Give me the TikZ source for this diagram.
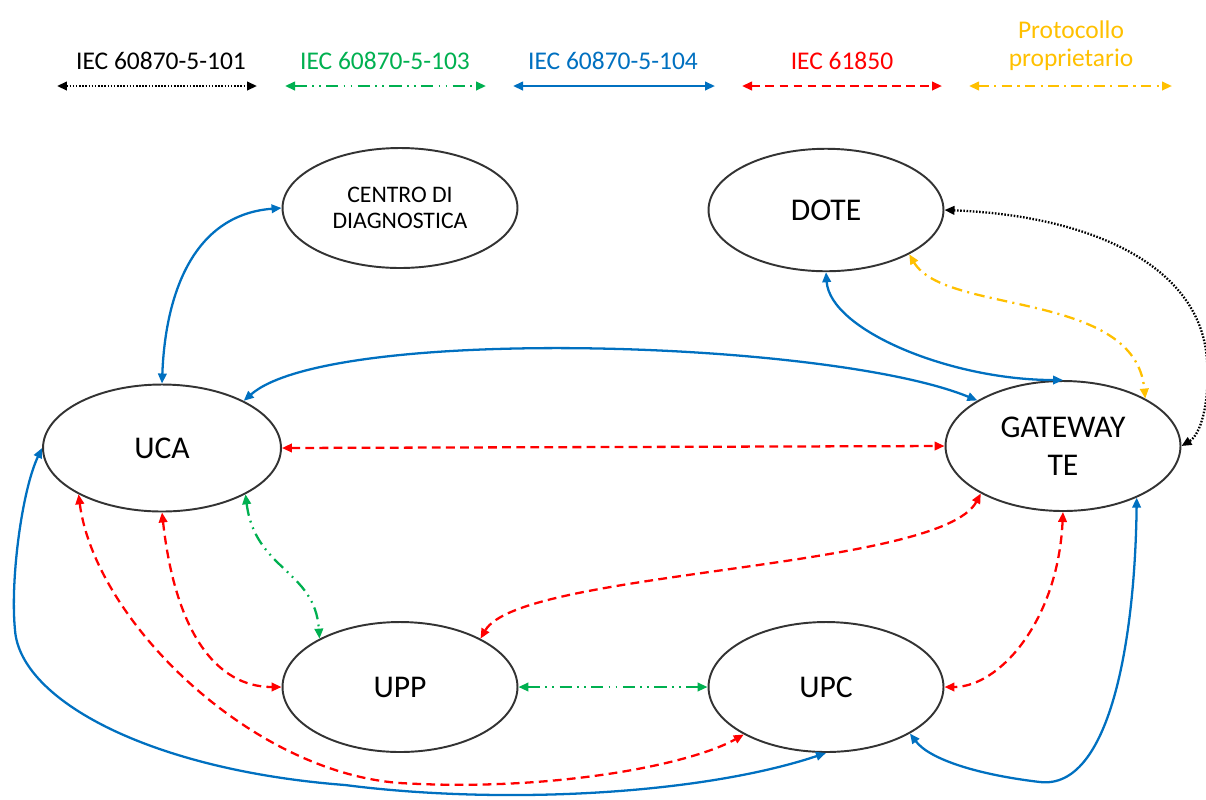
\documentclass[tikz,border=0pt]{standalone}
\usepackage{fontspec}
\setmainfont{Carlito}
\usetikzlibrary{arrows.meta}
\usetikzlibrary{shapes.geometric}
\definecolor{iecblack}{RGB}{0, 0, 0}
\definecolor{iecgreen}{RGB}{0, 176, 80}
\definecolor{iecblue}{RGB}{0, 112, 192}
\definecolor{iecred}{RGB}{255, 0, 0}
\definecolor{iecorange}{RGB}{255, 192, 0}

\begin{document}
\begin{tikzpicture}[x={(0.02cm,0)}, y={(0,-0.02cm)},
        >={Triangle[length=2mm, width=1.7mm]},
        stato/.style={draw=black!80, line width=1.1pt, ellipse, inner sep=0pt,
            minimum width=4.7cm, minimum height=2.5cm, align=center,
            font=\fontsize{18}{21.5}\selectfont},
        link/.style={line width=1.3pt, <->},
        p101/.style={link, iecblack, dash pattern=on 0.9pt off 0.9pt},
        p103/.style={link, iecgreen, dash pattern=on 7pt off 3pt on 1pt off 3pt on 1pt off 3pt},
        p104/.style={link, iecblue},
        p61850/.style={link, iecred, dash pattern=on 5pt off 3pt},
        pprop/.style={link, iecorange, dash pattern=on 6pt off 3pt on 1.2pt off 3pt},
        legenda/.style={anchor=base, font=\fontsize{14.5}{16}\selectfont, align=center}]
    \useasboundingbox (0,0) rectangle (1206,799);

    % legenda
    \node[legenda, text=iecblack]  (t101)   at ( 161, 69) {IEC 60870-5-101};
    \node[legenda, text=iecgreen]  (t103)   at ( 385, 69) {IEC 60870-5-103};
    \node[legenda, text=iecblue]   (t104)   at ( 613, 69) {IEC 60870-5-104};
    \node[legenda, text=iecred]    (t61850) at ( 842, 69) {IEC 61850};
    \node[legenda, text=iecorange, anchor=south] (tprop) at (1071, 77) {Protocollo\\proprietario};
    \coordinate (a101)   at (  57, 86);  \coordinate (b101)   at ( 257, 86);
    \coordinate (a103)   at ( 285, 86);  \coordinate (b103)   at ( 486, 86);
    \coordinate (a104)   at ( 513, 86);  \coordinate (b104)   at ( 715, 86);
    \coordinate (a61850) at ( 742, 86);  \coordinate (b61850) at ( 942, 86);
    \coordinate (aprop)  at ( 969, 86);  \coordinate (bprop)  at (1172, 86);
    \draw[p101]   (a101)   -- (b101);
    \draw[p103]   (a103)   -- (b103);
    \draw[p104]   (a104)   -- (b104);
    \draw[p61850] (a61850) -- (b61850);
    \draw[pprop]  (aprop)  -- (bprop);

    % nodi
    \node[stato, minimum height=2.4cm, font=\fontsize{13.5}{15.2}\selectfont] (centro) at ( 400, 208) {CENTRO DI\\DIAGNOSTICA};
    \node[stato, minimum height=2.45cm] (dote) at ( 826, 210) {DOTE};
    \node[stato, minimum width=4.76cm, minimum height=2.54cm] (uca) at ( 162, 448) {UCA};
    \node[stato, minimum height=2.6cm] (gw)   at (1063, 446) {GATEWAY\\TE};
    \node[stato, minimum height=2.6cm] (upp)  at ( 400, 687) {UPP};
    \node[stato, minimum height=2.6cm] (upc)  at ( 826, 687) {UPC};

    % collegamenti
    \draw[p104] (uca.north) .. controls (165,300) and (190,215) .. (centro.west);
    \draw[p104] (uca.30) .. controls (330,325) and (830,340) .. (gw.152);
    \draw[p104] (dote.south) .. controls (830,330) and (950,380) .. (gw.north);
    \draw[pprop] (dote.-28) .. controls (945,315) and (1135,290) .. (gw.30);
    \draw[p101] (dote.east) .. controls (1080,215) and (1200,260) .. (1207,360)
        .. controls (1210,405) and (1200,435) .. (gw.east);
    \draw[p61850] (uca.east) -- (gw.west);
    \draw[p61850] (gw.210) .. controls (940,570) and (520,570) .. (upp.31);
    \draw[p61850] (gw.south) .. controls (1058,620) and (1000,687) .. (upc.east);
    \draw[p104] (gw.-35) .. controls (1135,640) and (1110,790) .. (1040,782)
        .. controls (980,775) and (930,760) .. (upc.-29);
    \draw[p61850] (uca.south) .. controls (175,630) and (215,687) .. (upp.west);
    \draw[p61850] (uca.209) .. controls (95,620) and (250,772) .. (400,783)
        .. controls (550,792) and (690,765) .. (upc.210);
    \draw[p103] (uca.-29) .. controls (255,570) and (315,570) .. (upp.149);
    \draw[p103] (upp.east) -- (upc.west);
    \draw[p104] (uca.west) .. controls (22,490) and (10,580) .. (15,630)
        .. controls (20,700) and (150,770) .. (345,785)
        .. controls (500,805) and (700,795) .. (upc.south);
\end{tikzpicture}
\end{document}
